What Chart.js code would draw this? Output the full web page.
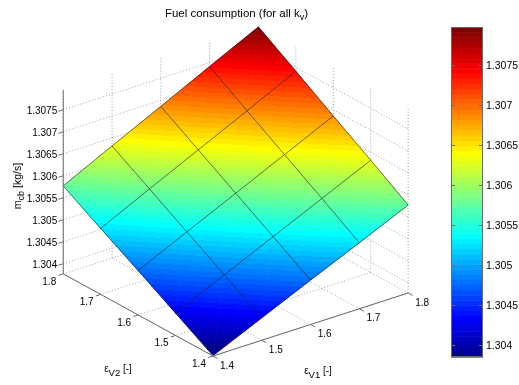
<!DOCTYPE html>
<html><head><meta charset="utf-8">
<script src="https://cdn.jsdelivr.net/npm/chart.js@4"></script>
<style>html,body{margin:0;padding:0;background:#fff}#c{display:block}</style>
</head><body>
<canvas id="c" width="519" height="385"></canvas>
<script>
// ---------- data ----------
const v1Values = [1.4, 1.5, 1.6, 1.7, 1.8];          // εV1 grid
const v2Values = [1.4, 1.5, 1.6, 1.7, 1.8];          // εV2 grid
// fuel[j][i] : j = εV2 index, i = εV1 index  (kg/s)
const fuelRow14 = [1.30378, 1.30428, 1.30478, 1.30527, 1.30577];
const fuelRow15 = [1.30428, 1.30479, 1.30530, 1.30581, 1.30632];
const fuelRow16 = [1.30478, 1.30530, 1.30582, 1.30634, 1.30686];
const fuelRow17 = [1.30527, 1.30581, 1.30634, 1.30687, 1.30741];
const fuelRow18 = [1.30577, 1.30632, 1.30686, 1.30741, 1.30795];
const fuel = [fuelRow14, fuelRow15, fuelRow16, fuelRow17, fuelRow18];
const zTicks = [1.304, 1.3045, 1.305, 1.3055, 1.306, 1.3065, 1.307, 1.3075];
const v1Ticks = [1.4, 1.5, 1.6, 1.7, 1.8];
const v2Ticks = [1.4, 1.5, 1.6, 1.7, 1.8];
const colorTicks = [1.304, 1.3045, 1.305, 1.3055, 1.306, 1.3065, 1.307, 1.3075];
const colorTickLabels = ['1.304', '1.3045', '1.305', '1.3055', '1.306', '1.3065', '1.307', '1.3075'];
const zLimits = [1.30377, 1.30795];
const colorLimits = [1.30385, 1.30798];

// ---------- view / style ----------
const VIEW_AZ = -37.5, VIEW_EL = 30, Z_ASPECT = 1.026;
const U_RANGE = [-0.86585, 1.09756];
const V_RANGE = [-0.00483, 1.58937];
const FONT = '"Liberation Sans", Arial, Helvetica, sans-serif';
const NCOL = 64;
const DEG = Math.PI / 180;

function jetMap(m) {
  const n = Math.ceil(m / 4);
  const u = [];
  for (let k = 1; k <= n; k++) u.push(k / n);
  for (let k = 1; k < n; k++) u.push(1);
  for (let k = n; k >= 1; k--) u.push(k / n);
  const g0 = Math.ceil(n / 2) - (m % 4 === 1 ? 1 : 0);
  const J = Array.from({length: m}, () => [0, 0, 0]);
  for (let k = 0; k < u.length; k++) {
    const g = g0 + k + 1, r = g + n, b = g - n;
    if (g >= 1 && g <= m) J[g - 1][1] = u[k];
    if (r >= 1 && r <= m) J[r - 1][0] = u[k];
    if (b >= 1 && b <= m) J[b - 1][2] = u[k];
  }
  return J.map(c => `rgb(${Math.round(c[0]*255)},${Math.round(c[1]*255)},${Math.round(c[2]*255)})`);
}
const JET = jetMap(NCOL);

const v1Lim = [v1Ticks[0], v1Ticks[v1Ticks.length - 1]];
const v2Lim = [v2Ticks[0], v2Ticks[v2Ticks.length - 1]];

function proj(a, b, z) {
  const xn = (a - v1Lim[0]) / (v1Lim[1] - v1Lim[0]);
  const yn = (b - v2Lim[0]) / (v2Lim[1] - v2Lim[0]);
  const zn = (z - zLimits[0]) / (zLimits[1] - zLimits[0]);
  const ca = Math.cos(VIEW_AZ * DEG), sa = Math.sin(VIEW_AZ * DEG);
  const se = Math.sin(VIEW_EL * DEG), ce = Math.cos(VIEW_EL * DEG);
  return {x: ca * xn + sa * yn, y: se * (-sa * xn + ca * yn) + ce * Z_ASPECT * zn};
}

function colorIndex(z) {
  return (z - colorLimits[0]) / (colorLimits[1] - colorLimits[0]) * NCOL;
}

function drawParts(ctx, parts, x, y, align, size, subSize, subDrop) {
  const mainF = size + 'px ' + FONT, subF = subSize + 'px ' + FONT;
  let w = 0;
  parts.forEach(p => { ctx.font = p.sub ? subF : mainF; p.w = ctx.measureText(p.t).width; w += p.w; });
  let cx = align === 'center' ? x - w / 2 : (align === 'right' ? x - w : x);
  ctx.textAlign = 'left';
  ctx.textBaseline = 'alphabetic';
  parts.forEach(p => {
    ctx.font = p.sub ? subF : mainF;
    ctx.fillText(p.t, cx, y + (p.sub ? subDrop : 0));
    cx += p.w;
  });
}

const surfacePlugin = {
  id: 'surface3d',
  afterDatasetsDraw(chart) {
    const ctx = chart.ctx;
    const xs = chart.scales.x, ys = chart.scales.y, cb = chart.scales.cb;
    const P = (a, b, z) => { const p = proj(a, b, z); return [xs.getPixelForValue(p.x), ys.getPixelForValue(p.y)]; };
    const line = (p, q) => { ctx.beginPath(); ctx.moveTo(p[0], p[1]); ctx.lineTo(q[0], q[1]); ctx.stroke(); };
    const z0 = zLimits[0], z1 = zLimits[1];
    ctx.save();

    // ---- dotted grid on floor and back walls ----
    ctx.strokeStyle = '#a0a0a0';
    ctx.lineWidth = 1;
    ctx.setLineDash([1, 2]);
    v1Ticks.forEach(a => line(P(a, v2Lim[0], z0), P(a, v2Lim[1], z0)));
    v2Ticks.forEach(b => line(P(v1Lim[0], b, z0), P(v1Lim[1], b, z0)));
    zTicks.forEach(z => line(P(v1Lim[0], v2Lim[1], z), P(v1Lim[1], v2Lim[1], z)));
    v1Ticks.forEach(a => line(P(a, v2Lim[1], z0), P(a, v2Lim[1], z1)));
    zTicks.forEach(z => line(P(v1Lim[1], v2Lim[0], z), P(v1Lim[1], v2Lim[1], z)));
    v2Ticks.forEach(b => line(P(v1Lim[1], b, z0), P(v1Lim[1], b, z1)));
    ctx.setLineDash([]);

    // ---- surface ----
    const tri = (pts, tv) => {
      const [x0, y0] = pts[0], [x1, y1] = pts[1], [x2, y2] = pts[2];
      const dx1 = x1 - x0, dy1 = y1 - y0, dx2 = x2 - x0, dy2 = y2 - y0;
      const det = dx1 * dy2 - dx2 * dy1;
      const dt1 = tv[1] - tv[0], dt2 = tv[2] - tv[0];
      const A = (dt1 * dy2 - dt2 * dy1) / det;
      const B = (dx1 * dt2 - dx2 * dt1) / det;
      const g2 = A * A + B * B;
      let style;
      if (g2 < 1e-12) {
        style = JET[Math.max(0, Math.min(NCOL - 1, Math.floor(tv[0])))];
      } else {
        const sx = A / g2, sy = B / g2;
        const grad = ctx.createLinearGradient(x0 - tv[0] * sx, y0 - tv[0] * sy,
                                              x0 + (NCOL - tv[0]) * sx, y0 + (NCOL - tv[0]) * sy);
        for (let k = 0; k < NCOL; k++) {
          grad.addColorStop(k / NCOL, JET[k]);
          grad.addColorStop(Math.min(1, (k + 1) / NCOL - 1e-4), JET[k]);
        }
        style = grad;
      }
      ctx.beginPath();
      ctx.moveTo(x0, y0); ctx.lineTo(x1, y1); ctx.lineTo(x2, y2); ctx.closePath();
      ctx.fillStyle = style; ctx.fill();
      ctx.strokeStyle = style; ctx.lineWidth = 0.8; ctx.stroke();
    };
    for (let j = 0; j < v2Values.length - 1; j++) {
      for (let i = 0; i < v1Values.length - 1; i++) {
        const a0 = v1Values[i], a1 = v1Values[i + 1], b0 = v2Values[j], b1 = v2Values[j + 1];
        const f00 = fuel[j][i], f10 = fuel[j][i + 1], f11 = fuel[j + 1][i + 1], f01 = fuel[j + 1][i];
        const p00 = P(a0, b0, f00), p10 = P(a1, b0, f10), p11 = P(a1, b1, f11), p01 = P(a0, b1, f01);
        tri([p00, p10, p11], [colorIndex(f00), colorIndex(f10), colorIndex(f11)]);
        tri([p00, p11, p01], [colorIndex(f00), colorIndex(f11), colorIndex(f01)]);
      }
    }
    // mesh lines
    ctx.strokeStyle = 'rgba(25,25,25,0.75)';
    ctx.lineWidth = 0.8;
    for (let j = 0; j < v2Values.length; j++) {
      ctx.beginPath();
      v1Values.forEach((a, i) => { const p = P(a, v2Values[j], fuel[j][i]); i ? ctx.lineTo(p[0], p[1]) : ctx.moveTo(p[0], p[1]); });
      ctx.stroke();
    }
    for (let i = 0; i < v1Values.length; i++) {
      ctx.beginPath();
      v2Values.forEach((b, j) => { const p = P(v1Values[i], b, fuel[j][i]); j ? ctx.lineTo(p[0], p[1]) : ctx.moveTo(p[0], p[1]); });
      ctx.stroke();
    }

    // ---- axes ----
    ctx.strokeStyle = '#6a6a6a';
    ctx.lineWidth = 1;
    line(P(v1Lim[0], v2Lim[1], z0), P(v1Lim[0], v2Lim[1], z1));
    line(P(v1Lim[0], v2Lim[0], z0), P(v1Lim[0], v2Lim[1], z0));
    line(P(v1Lim[0], v2Lim[0], z0), P(v1Lim[1], v2Lim[0], z0));
    const dA = 0.01 * (v1Lim[1] - v1Lim[0]) / 0.4, dB = 0.012 * (v2Lim[1] - v2Lim[0]) / 0.4;
    zTicks.forEach(z => line(P(v1Lim[0], v2Lim[1], z), P(v1Lim[0] - dA, v2Lim[1], z)));
    v2Ticks.forEach(b => line(P(v1Lim[0], b, z0), P(v1Lim[0] - dA, b, z0)));
    v1Ticks.forEach(a => line(P(a, v2Lim[0], z0), P(a, v2Lim[0] - dB, z0)));

    ctx.fillStyle = '#000';
    ctx.font = '10px ' + FONT;
    ctx.textBaseline = 'middle';
    ctx.textAlign = 'right';
    zTicks.forEach(z => { const p = P(v1Lim[0], v2Lim[1], z); ctx.fillText(String(z), p[0] - 6, p[1] + 1); });
    ctx.textAlign = 'center';
    v2Ticks.forEach(b => { const p = P(v1Lim[0], b, z0); ctx.fillText(b.toFixed(1), p[0] - 14, p[1] + 8); });
    v1Ticks.forEach(a => { const p = P(a, v2Lim[0], z0); ctx.fillText(a.toFixed(1), p[0] + 14, p[1] + 10); });

    // axis labels
    drawParts(ctx, [{t: 'ε'}, {t: 'V2', sub: true}, {t: ' [-]'}], 118, 372, 'center', 10, 9.5, 4);
    drawParts(ctx, [{t: 'ε'}, {t: 'V1', sub: true}, {t: ' [-]'}], 318, 374, 'center', 10, 9.5, 4);
    ctx.save();
    ctx.translate(20.5, 186);
    ctx.rotate(-Math.PI / 2);
    drawParts(ctx, [{t: 'm'}, {t: 'cb', sub: true}, {t: ' [kg/s]'}], 0, 0, 'center', 10.5, 9, 3);
    ctx.restore();
    // title
    drawParts(ctx, [{t: 'Fuel consumption (for all k'}, {t: 'v', sub: true}, {t: ')'}], 236.5, 16.5, 'center', 11.5, 9, 3);

    // ---- colorbar (positions from the 'cb' scale) ----
    const cbR = chart.chartArea.right, cbL = cbR - 32;
    const span = (colorLimits[1] - colorLimits[0]) / NCOL;
    for (let k = 0; k < NCOL; k++) {
      const ya = cb.getPixelForValue(colorLimits[0] + k * span);
      const yb = cb.getPixelForValue(colorLimits[0] + (k + 1) * span);
      ctx.fillStyle = JET[k];
      ctx.fillRect(cbL, yb, cbR - cbL, ya - yb + 0.5);
    }
    ctx.strokeStyle = '#6a6a6a';
    ctx.lineWidth = 1;
    ctx.strokeRect(cbL + 0.5, cb.top + 0.5, cbR - cbL - 1, cb.bottom - cb.top - 1);
    ctx.fillStyle = '#000';
    ctx.font = '10.5px ' + FONT;
    ctx.textAlign = 'left';
    ctx.textBaseline = 'middle';
    cb.ticks.forEach((t, i) => {
      const yv = cb.getPixelForValue(t.value);
      const y = Math.round(yv) + 0.5;
      line([cbL, y], [cbL + 4, y]);
      line([cbR, y], [cbR - 4, y]);
      ctx.fillText(colorTickLabels[i], cbR + 3, yv + 1);
    });
    ctx.restore();
  }
};

const gridPoints = [];
fuel.forEach((row, j) => row.forEach((z, i) => gridPoints.push(proj(v1Values[i], v2Values[j], z))));

new Chart(document.getElementById('c'), {
  type: 'scatter',
  data: {datasets: [{data: gridPoints, pointRadius: 0, xAxisID: 'x', yAxisID: 'y'}]},
  options: {
    responsive: false, animation: false, devicePixelRatio: 1,
    layout: {padding: {top: 27, bottom: 28, left: 0, right: 0}},
    plugins: {legend: {display: false}, tooltip: {enabled: false}, title: {display: false}},
    scales: {
      x: {type: 'linear', display: false, min: U_RANGE[0], max: U_RANGE[1]},
      y: {type: 'linear', display: false, min: V_RANGE[0], max: V_RANGE[1]},
      cb: {
        type: 'linear', position: 'right', min: colorLimits[0], max: colorLimits[1],
        grid: {display: false}, border: {display: false},
        afterBuildTicks: s => { s.ticks = colorTicks.map(v => ({value: v})); },
        afterFit: s => { s.width = 36; },
        ticks: {display: false}
      }
    }
  },
  plugins: [surfacePlugin]
});
</script>
</body></html>
